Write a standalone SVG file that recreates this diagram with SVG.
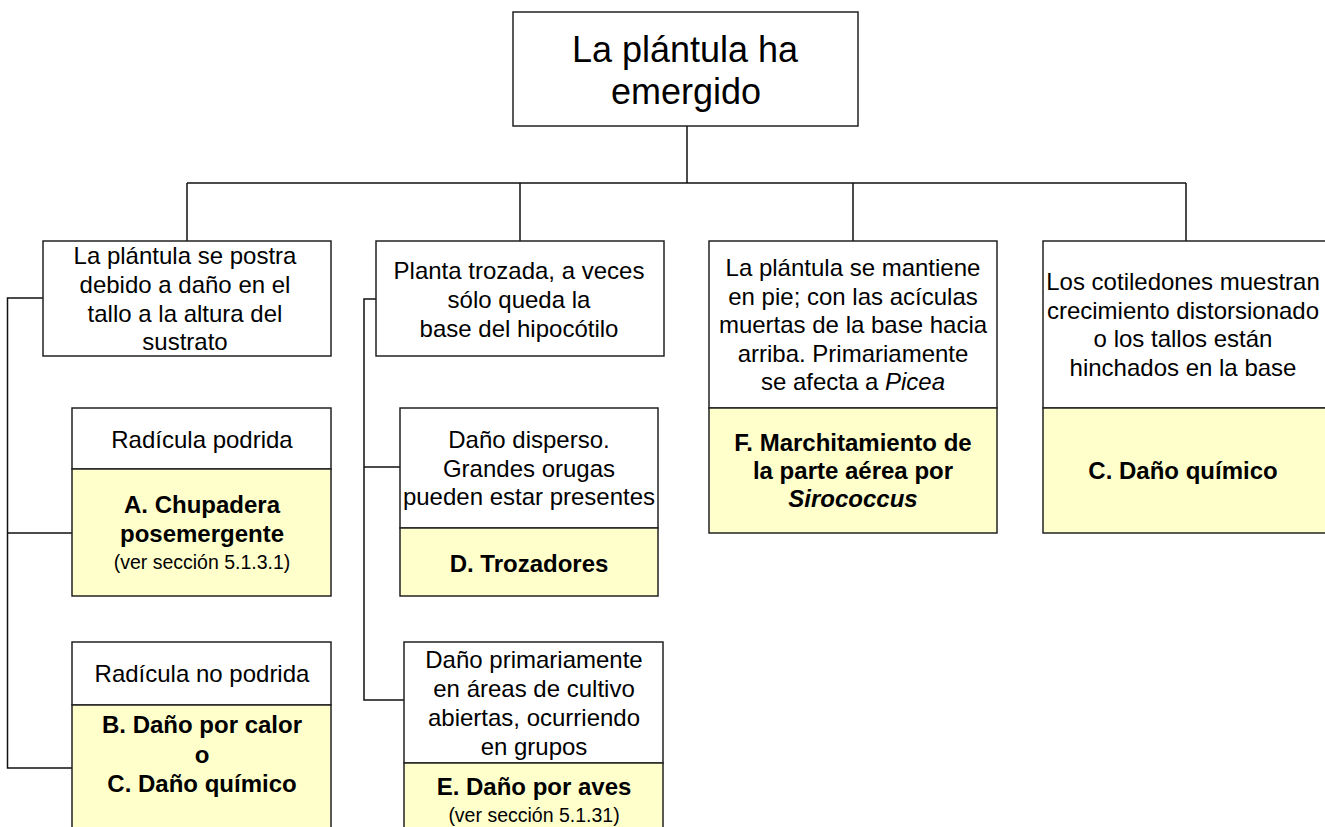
<svg xmlns="http://www.w3.org/2000/svg" width="1325" height="827" viewBox="0 0 1325 827">
<style>
.box{fill:#ffffff;stroke:#222222;stroke-width:1.5}
.res{fill:#ffffcc;stroke:#222222;stroke-width:1.5}
.ln{fill:none;stroke:#111111;stroke-width:1.5}
text{font-family:"Liberation Sans",Arial,sans-serif;fill:#000000;text-anchor:middle}
.t{font-size:24px}
.b{font-size:24px;font-weight:bold}
.s{font-size:19.5px}
.title{font-size:36px}
</style>
<rect width="1325" height="827" fill="#ffffff"/>
<g id="connectors">
<path class="ln" d="M687 126V183M187 183H1186M187 183V241M520 183V241M853 183V241M1186 183V241"/>
<path class="ln" d="M43 298H7.5V768H72M7.5 533H72"/>
<path class="ln" d="M376 299H364V700H404M364 467H400"/>
</g>
<g id="root">
<rect class="box" x="513" y="12" width="345" height="114"/>
<text class="title" x="685" y="62">La plántula ha</text>
<text class="title" x="686" y="104">emergido</text>
</g>
<g id="n1">
<rect class="box" x="43" y="241" width="288" height="115"/>
<text class="t" x="185" y="264">La plántula se postra</text>
<text class="t" x="185" y="293">debido a daño en el</text>
<text class="t" x="185" y="322">tallo a la altura del</text>
<text class="t" x="185" y="350">sustrato</text>
</g>
<g id="n2">
<rect class="box" x="376" y="241" width="288" height="115"/>
<text class="t" x="519" y="279">Planta trozada, a veces</text>
<text class="t" x="519" y="308">sólo queda la</text>
<text class="t" x="519" y="337">base del hipocótilo</text>
</g>
<g id="n3">
<rect class="box" x="709" y="241" width="288" height="167"/>
<rect class="res" x="709" y="408" width="288" height="125"/>
<text class="t" x="853" y="276">La plántula se mantiene</text>
<text class="t" x="853" y="304.5">en pie; con las acículas</text>
<text class="t" x="853" y="333">muertas de la base hacia</text>
<text class="t" x="853" y="361.5">arriba. Primariamente</text>
<text class="t" x="853" y="390">se afecta a <tspan font-style="italic">Picea</tspan></text>
<text class="b" x="853" y="451">F. Marchitamiento de</text>
<text class="b" x="853" y="479">la parte aérea por</text>
<text class="b" x="853" y="507" font-style="italic">Sirococcus</text>
</g>
<g id="n4">
<rect class="box" x="1043" y="241" width="292" height="167"/>
<rect class="res" x="1043" y="408" width="292" height="125"/>
<text class="t" x="1183" y="290">Los cotiledones muestran</text>
<text class="t" x="1183" y="318.5">crecimiento distorsionado</text>
<text class="t" x="1183" y="347">o los tallos están</text>
<text class="t" x="1183" y="375.5">hinchados en la base</text>
<text class="b" x="1183" y="479">C. Daño químico</text>
</g>
<g id="nA">
<rect class="box" x="72" y="408" width="259" height="61"/>
<rect class="res" x="72" y="469" width="259" height="127"/>
<text class="t" x="202" y="448">Radícula podrida</text>
<text class="b" x="202" y="513">A. Chupadera</text>
<text class="b" x="202" y="542">posemergente</text>
<text class="s" x="202" y="569">(ver sección 5.1.3.1)</text>
</g>
<g id="nB">
<rect class="box" x="72" y="642" width="259" height="63"/>
<rect class="res" x="72" y="705" width="259" height="130"/>
<text class="t" x="202" y="682">Radícula no podrida</text>
<text class="b" x="202" y="733">B. Daño por calor</text>
<text class="b" x="202" y="763">o</text>
<text class="b" x="202" y="792">C. Daño químico</text>
</g>
<g id="nD">
<rect class="box" x="400" y="408" width="258" height="120"/>
<rect class="res" x="400" y="528" width="258" height="68"/>
<text class="t" x="529" y="448">Daño disperso.</text>
<text class="t" x="529" y="477">Grandes orugas</text>
<text class="t" x="529" y="505">pueden estar presentes</text>
<text class="b" x="529" y="572">D. Trozadores</text>
</g>
<g id="nE">
<rect class="box" x="404" y="642" width="259" height="121"/>
<rect class="res" x="404" y="763" width="259" height="72"/>
<text class="t" x="534" y="668">Daño primariamente</text>
<text class="t" x="534" y="697">en áreas de cultivo</text>
<text class="t" x="534" y="726">abiertas, ocurriendo</text>
<text class="t" x="534" y="755">en grupos</text>
<text class="b" x="534" y="795">E. Daño por aves</text>
<text class="s" x="534" y="822">(ver sección 5.1.31)</text>
</g>
</svg>
